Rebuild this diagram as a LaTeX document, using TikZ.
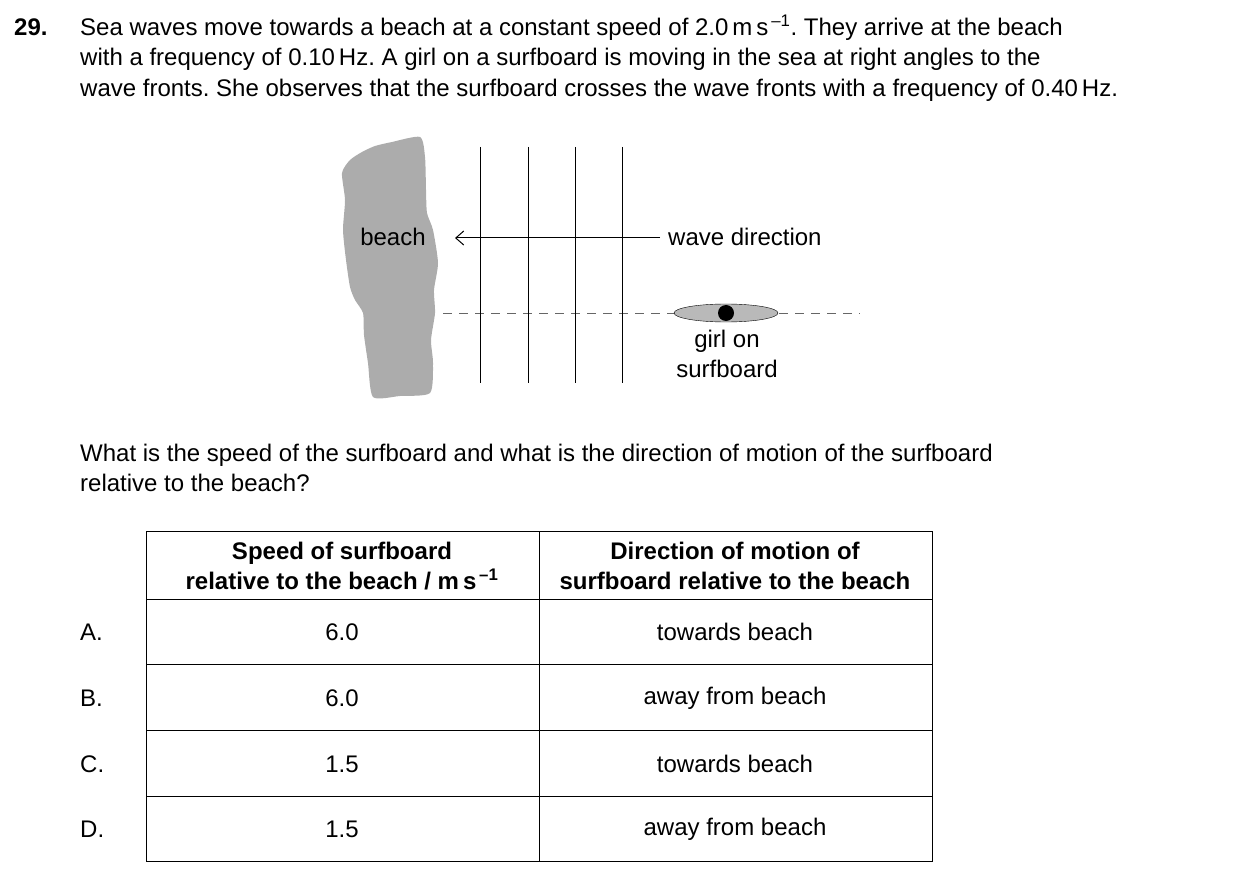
\documentclass[tikz,border=0pt]{standalone}
\usepackage{fontspec}
\setmainfont{Liberation Sans}
\usetikzlibrary{arrows.meta,shapes.geometric}
\frenchspacing
\newcommand{\msup}{m\,s\textsuperscript{\,–1}}
\begin{document}
\begin{tikzpicture}[x=1pt,y=-1pt,
  txt/.style={font=\fontsize{24}{30}\selectfont,inner sep=0pt},
  hd/.style={txt,font=\fontsize{24}{30}\selectfont\bfseries,align=center},
  wave/.style={line width=1pt},
  grid/.style={line width=0.9pt}]
\useasboundingbox (0,0) rectangle (1241,882);
\node[txt,anchor=base west,font=\fontsize{24}{30}\selectfont\bfseries] (q) at (14,36) {29.};
\node[txt,anchor=base west] (l1) at (80,36) {Sea waves move towards a beach at a constant speed of 2.0\,\msup. They arrive at the beach};
\node[txt,anchor=base west] (l2) at (80,66) {with a frequency of 0.10\,Hz. A girl on a surfboard is moving in the sea at right angles to the};
\node[txt,anchor=base west] (l3) at (80,97) {wave fronts. She observes that the surfboard crosses the wave fronts with a frequency of 0.40\,Hz.};
% beach
\fill[gray!65] plot[smooth cycle,tension=0.4] coordinates {(362,152) (375,146) (392,142) (420,137) (425,157) (426,190) (427,213) (433,230) (438,263) (434,290) (435,313) (431,340) (433,363) (430,393) (400,396) (373,397) (368,363) (364,335) (363,313) (355,300) (350,287) (346,260) (343,230) (345,200) (342,173) (350,160)};
\node[txt,anchor=base] (beach) at (393,246) {beach};
\draw[dashed,dash pattern=on 9pt off 7pt,gray!80!black] (443,313) -- (860,313);
\foreach \x in {480,528,575,622} \draw[wave] (\x,147) -- (\x,383);
\node[txt,anchor=base west] (wd) at (668,246) {wave direction};
\coordinate (wstart) at (660,238);
\coordinate (wend) at (455,238);
\draw[wave,-{Straight Barb[length=8pt,width=14pt]}] (wstart) -- (wend);
\node[draw,fill=gray!55,ellipse,minimum width=104pt,minimum height=18pt,inner sep=0pt] (board) at (726,313) {};
\fill (726,313) circle (8);
\node[txt,align=center,anchor=north] (girl) at (727,330) {girl on\\surfboard};
\node[txt,anchor=base west] (q2) at (80,461) {What is the speed of the surfboard and what is the direction of motion of the surfboard};
\node[txt,anchor=base west] (q3) at (80,491) {relative to the beach?};
% table
\draw[grid] (146,531) rectangle (932,861);
\draw[grid] (539,531) -- (539,861);
\foreach \y in {599,664,730,796} \draw[grid] (146,\y) -- (932,\y);
\node[hd] (h1) at (342,566) {Speed of surfboard\\relative to the beach / \msup};
\node[hd] (h2) at (735,566) {Direction of motion of\\surfboard relative to the beach};
\foreach \y/\l/\s/\d in {632/A./6.0/towards beach,698/B./6.0/away from beach,764/C./1.5/towards beach,829/D./1.5/away from beach}{
  \node[txt,anchor=west] at (80,\y) {\l};
  \node[txt] at (342,\y) {\s};
  \node[txt] at (735,\y) {\d};
}
\end{tikzpicture}
\end{document}
